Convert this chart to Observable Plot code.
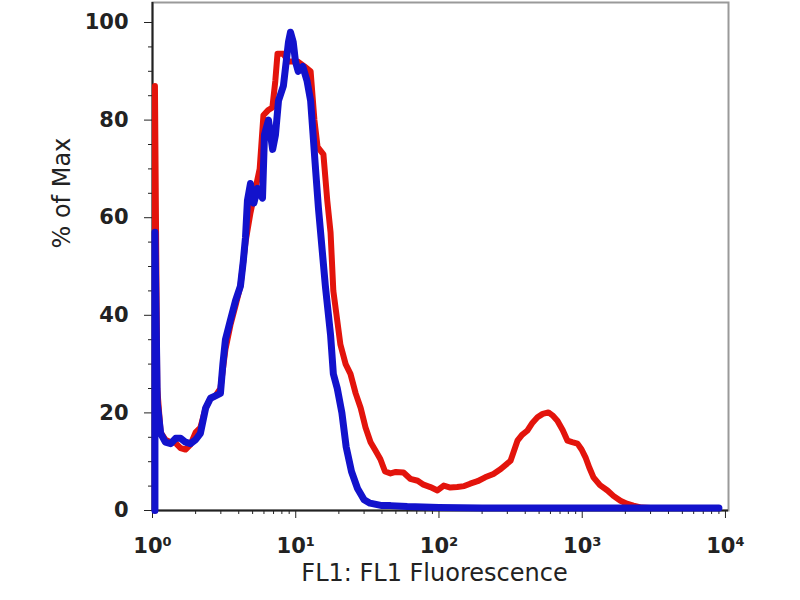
<!DOCTYPE html>
<html>
<head>
<meta charset="utf-8">
<script src="https://cdn.jsdelivr.net/npm/d3@7"></script>
<script src="https://cdn.jsdelivr.net/npm/@observablehq/plot@0.6"></script>
<style>
  html, body { margin: 0; padding: 0; background: white; }
</style>
</head>
<body>
<div id="chart"></div>
<script>
// red histogram (stained sample)
const redFluor = [1.04, 1.04, 1.08, 1.14, 1.23, 1.34, 1.45, 1.57, 1.7, 1.84, 2.0, 2.16, 2.35, 2.54, 2.75, 2.98,
  3.23, 3.5, 3.8, 4.11, 4.46, 4.83, 5.24, 5.6, 5.95, 6.4, 6.87, 7.2, 7.46, 8.2, 8.9, 9.6, 10.3, 11.5, 12.7,
  13.5, 14.2, 15.6, 16.6, 17.5, 18.3, 20.5, 22.3, 24.1, 26.2, 28.4, 30.7, 33.3, 36, 39, 42, 45.9, 50, 56.5,
  63, 71, 78, 87, 97.6, 108, 120, 134, 150, 165, 186, 210, 240, 270, 316, 353, 380, 415, 450, 487, 530, 581,
  620, 671, 730, 789, 850, 927, 990, 1054, 1120, 1198, 1330, 1501, 1650, 1849, 2050, 2279, 2600, 3000, 9000];
const redPct = [0, 87, 25, 16, 14.5, 14, 13.8, 12.8, 12.5, 13.5, 16, 17, 21, 23, 23.5, 25,
  33, 38, 42, 46, 55, 61, 66, 70, 81, 82, 82.6, 88, 93.6, 93.6, 92, 92, 92, 91, 90,
  80, 74.5, 73, 63.5, 57, 45, 34, 30, 28, 24, 21, 17, 14, 12.3, 10.5, 8, 7.6, 7.9, 7.8,
  6.5, 6.1, 5.3, 4.8, 4.1, 5.1, 4.7, 4.8, 5.0, 5.5, 6.0, 6.8, 7.5, 8.5, 10.2, 14.3, 15.5, 16.4, 18, 19.1, 19.8, 20.1,
  19.5, 18.4, 16.5, 14.3, 14.0, 13.7, 12.5, 10.9, 8.8, 6.8, 5.2, 4.1, 3.0, 2.0, 1.4, 1.0, 0.6, 0.5, 0.5];

// blue histogram (control)
const blueFluor = [1.04, 1.04, 1.08, 1.14, 1.23, 1.34, 1.45, 1.57, 1.7, 1.84, 2.0, 2.16, 2.35, 2.54, 2.75, 2.98,
  3.1, 3.23, 3.5, 3.8, 4.11, 4.3, 4.46, 4.6, 4.83, 5.1, 5.41, 5.86, 6.05, 6.45, 6.9, 7.22, 7.58, 8.2, 8.9, 9.19,
  9.6, 9.96, 10.4, 11.2, 12.0, 12.7, 13.75, 14.4, 16.1, 17.5, 18.3, 19.5, 21, 22.5, 24.5, 27, 30, 33, 40, 46,
  60, 100, 200, 500, 1000, 3000, 9000];
const bluePct = [0, 57, 22, 15.8, 14, 13.7, 14.8, 14.8, 14, 13.7, 14.5, 15.8, 21, 23, 23.5, 24,
  30, 35, 39, 43, 46, 51, 56, 63.5, 67, 63, 66, 64, 77, 80, 74, 77, 84, 87, 96, 98,
  96, 92, 90, 91, 88, 84, 70, 62, 46, 36, 28, 25, 20, 13, 8, 4.5, 2.2, 1.5, 1.0, 1.0,
  0.8, 0.6, 0.5, 0.5, 0.5, 0.5, 0.5];

const xMajor = [1, 10, 100, 1000, 10000];
const xTickLabels = ["10\u2070", "10\u00b9", "10\u00b2", "10\u00b3", "10\u2074"];
const xMinor = [2, 3, 4, 5, 6, 7, 8, 9, 20, 30, 40, 50, 60, 70, 80, 90, 200, 300, 400, 500, 600, 700, 800, 900,
  2000, 3000, 4000, 5000, 6000, 7000, 8000, 9000];
const yMajor = [0, 20, 40, 60, 80, 100];
const yMinor = [5, 10, 15, 25, 30, 35, 45, 50, 55, 65, 70, 75, 85, 90, 95];

const xTitle = "FL1: FL1 Fluorescence";
const yTitle = "% of Max";

const red = redFluor.map((x, i) => ({x, y: redPct[i]}));
const blue = blueFluor.map((x, i) => ({x, y: bluePct[i]}));

const plot = Plot.plot({
  width: 800,
  height: 600,
  marginLeft: 152,
  marginRight: 72,
  marginTop: 2,
  marginBottom: 90,
  x: {type: "log", domain: [1, 10500]},
  y: {domain: [0, 104.1]},
  style: {fontFamily: "DejaVu Sans", color: "#222", background: "white"},
  marks: [
    Plot.frame({stroke: "#9a9a9a", strokeWidth: 2}),
    Plot.axisX(xMinor, {tickSize: 4, tickFormat: () => "", label: null}),
    Plot.axisX(xMajor, {
      tickSize: 8, tickPadding: 20, label: null,
      tickFormat: (d) => xTickLabels[xMajor.indexOf(d)],
      fontSize: 21, fontWeight: "bold"
    }),
    Plot.axisY(yMinor, {tickSize: 4, tickFormat: () => "", label: null}),
    Plot.axisY(yMajor, {tickSize: 8, tickPadding: 16, label: null, fontSize: 21, fontWeight: "bold"}),
    Plot.ruleX([1], {stroke: "#222", strokeWidth: 2}),
    Plot.ruleY([0], {stroke: "#222", strokeWidth: 2}),
    Plot.line(red, {x: "x", y: "y", stroke: "#e3140c", strokeWidth: 6, strokeLinejoin: "round"}),
    Plot.line(blue, {x: "x", y: "y", stroke: "#1212cc", strokeWidth: 7, strokeLinejoin: "round"}),
    Plot.text([xTitle], {frameAnchor: "bottom", dx: -6, dy: 70, lineAnchor: "bottom", fontSize: 24, fill: "#222"}),
    Plot.text([yTitle], {frameAnchor: "left", rotate: -90, dx: -90, dy: -8, fontSize: 24, fill: "#222"})
  ]
});
document.getElementById("chart").append(plot);
</script>
</body>
</html>
